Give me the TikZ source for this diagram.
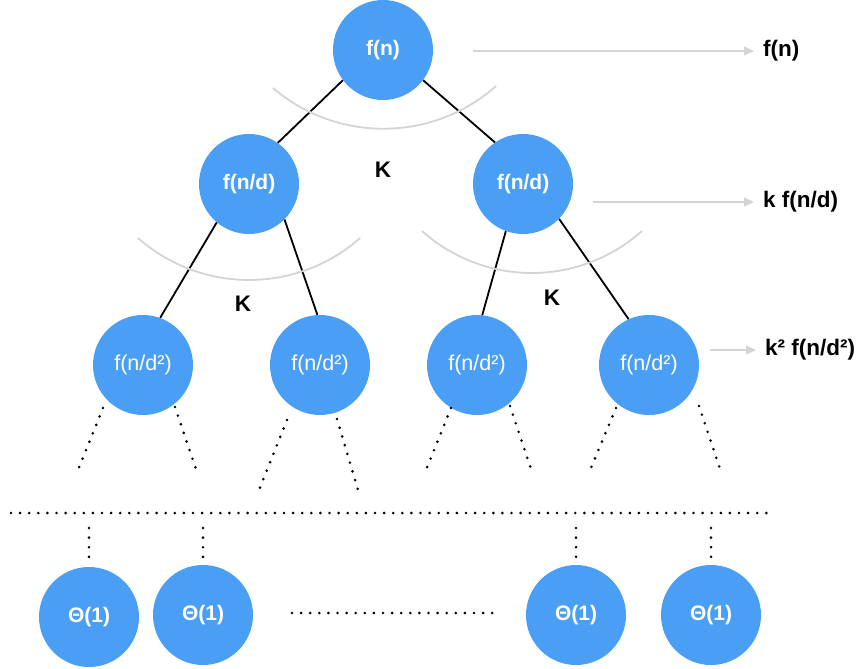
\documentclass[tikz,border=0pt]{standalone}
\usepackage{fontspec}
\setmainfont{Liberation Sans}
\usetikzlibrary{arrows.meta}
\definecolor{nodeblue}{RGB}{74,159,245}
\definecolor{softgray}{RGB}{212,212,212}
\begin{document}
\begin{tikzpicture}[x=1pt,y=-1pt,
  callnode/.style={circle,fill=nodeblue,draw=none,minimum size=100pt,inner sep=0pt,
    text=white,font=\fontsize{21.5}{25}\selectfont},
  strongcall/.style={callnode,font=\fontsize{21}{25}\selectfont\bfseries},
  costlabel/.style={anchor=west,inner sep=0pt,font=\fontsize{22.5}{26}\selectfont\bfseries},
  branchlabel/.style={inner sep=0pt,font=\fontsize{22.5}{26}\selectfont\bfseries},
  treeedge/.style={draw=black,line width=1.8pt},
  sweep/.style={draw=softgray,line width=1.8pt},
  costarrow/.style={draw=softgray,line width=1.6pt,-{Triangle[length=10pt,width=9pt]},shorten >=9pt},
  dotrow/.style={draw=black,line width=2.9pt,line cap=round,dash pattern=on 0pt off 9.1pt}]
\useasboundingbox (0,0) rectangle (868,669);

% recursion tree
\node[strongcall] (root) at (383,50) {f(n)};
\node[strongcall] (l1a) at (249,184) {f(n/d)};
\node[strongcall] (l1b) at (523,184) {f(n/d)};
\node[callnode] (l2a) at (143,365) {f(n/d²)};
\node[callnode] (l2b) at (320,365) {f(n/d²)};
\node[callnode] (l2c) at (477,365) {f(n/d²)};
\node[callnode] (l2d) at (649,365) {f(n/d²)};

\draw[treeedge] (root.217) -- (l1a.55);
\draw[treeedge] (root.323) -- (l1b.124);
\draw[treeedge] (l1a.230) -- (l2a.70);
\draw[treeedge] (l1a.315) -- (l2b.93);
\draw[treeedge] (l1b.250) -- (l2c.84);
\draw[treeedge] (l1b.316) -- (l2d.114);

% branching arcs
\draw[sweep] (273,88) arc[start angle=130.5, end angle=48.5, radius=170];
\draw[sweep] (138,238) arc[start angle=131.4, end angle=48.6, radius=168];
\draw[sweep] (422,231) arc[start angle=131.8, end angle=48.2, radius=165];

\node[branchlabel] (k1) at (383,170) {K};
\node[branchlabel] (k2) at (243,304) {K};
\node[branchlabel] (k3) at (552,298) {K};

% per-level cost
\node[costlabel] (c0) at (763,51) {f(n)};
\node[costlabel] (c1) at (763,202) {k f(n/d)};
\node[costlabel] (c2) at (765,350) {k² f(n/d²)};
\coordinate (a0) at (473,51);
\coordinate (a1) at (593,202);
\coordinate (a2) at (710,350);
\draw[costarrow] (a0) -- (c0.west);
\draw[costarrow] (a1) -- (c1.west);
\draw[costarrow] (a2) -- (c2.west);

% continuing branches
\coordinate (ta1) at (103,408); \coordinate (ta2) at (76,475);
\coordinate (ta3) at (175,407); \coordinate (ta4) at (198,475);
\coordinate (tb1) at (287,420); \coordinate (tb2) at (259,490);
\coordinate (tb3) at (337,419); \coordinate (tb4) at (358,490);
\coordinate (tc1) at (451,408); \coordinate (tc2) at (424,475);
\coordinate (tc3) at (510,406); \coordinate (tc4) at (533,475);
\coordinate (td1) at (616,408); \coordinate (td2) at (588,475);
\coordinate (td3) at (699,406); \coordinate (td4) at (722,475);
\foreach \p in {a,b,c,d}{
  \draw[dotrow] (t\p1) -- (t\p2);
  \draw[dotrow] (t\p3) -- (t\p4);
}

% leaf level
\coordinate (hl) at (11,513); \coordinate (hr) at (775,513);
\draw[dotrow] (hl) -- (hr);

\node[strongcall] (leafa) at (89,617) {Θ(1)};
\node[strongcall] (leafb) at (203,615) {Θ(1)};
\node[strongcall] (leafc) at (576,615) {Θ(1)};
\node[strongcall] (leafd) at (711,615) {Θ(1)};

\foreach \x/\n in {89/a,203/b,576/c,711/d}{
  \coordinate (v\n1) at (\x,528);
  \coordinate (v\n2) at (\x,557);
  \draw[dotrow,dash pattern=on 0pt off 9.6pt] (v\n1) -- (v\n2);
}

\coordinate (ml) at (292,613); \coordinate (mr) at (494,613);
\draw[dotrow] (ml) -- (mr);
\end{tikzpicture}
\end{document}
